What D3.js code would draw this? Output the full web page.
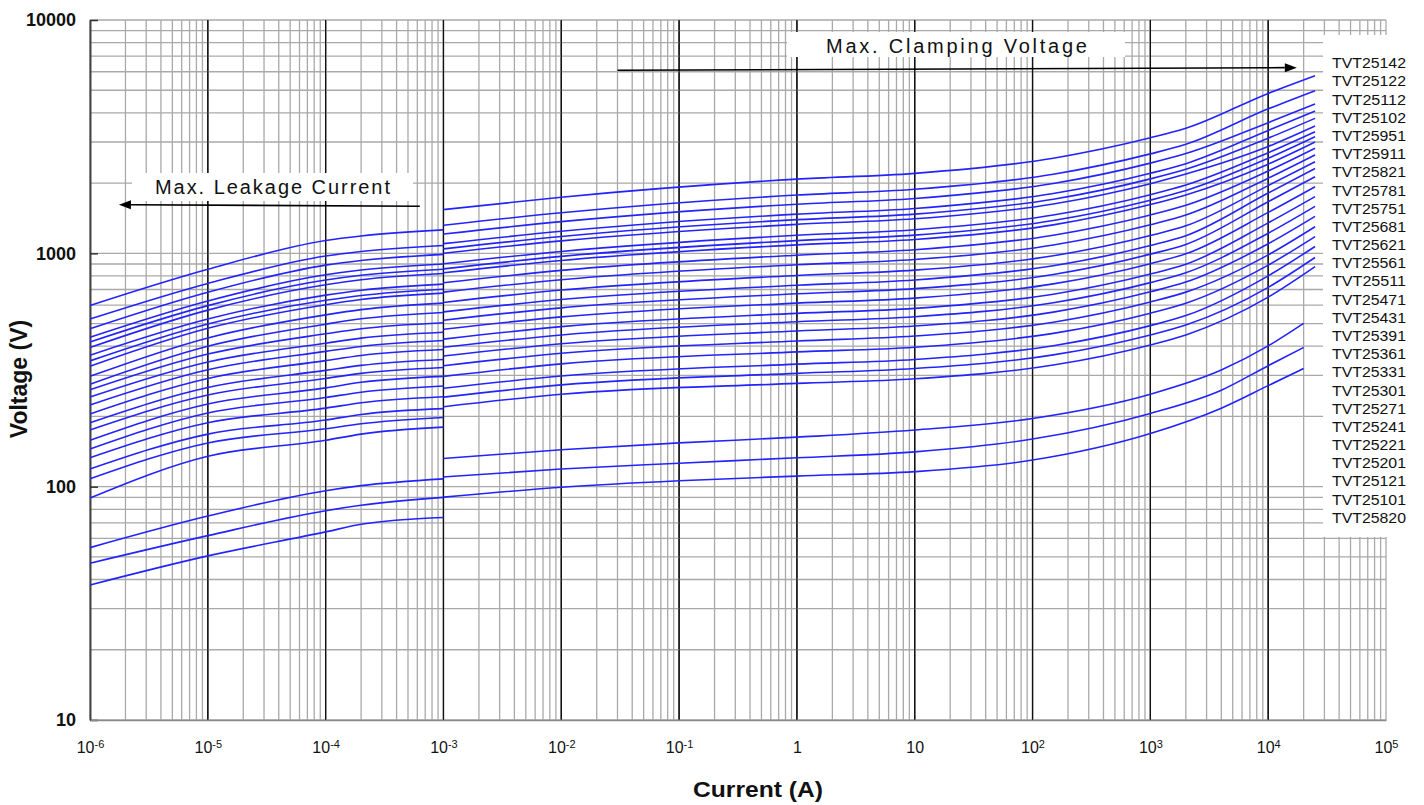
<!DOCTYPE html>
<html><head><meta charset="utf-8">
<script src="https://cdn.jsdelivr.net/npm/d3@7"></script>
<style>
html,body{margin:0;padding:0;background:#fff;}
svg{display:block;font-family:"Liberation Sans",Arial,sans-serif;}
</style></head><body>
<svg id="chart" width="1424" height="805"></svg>
<script>
// ---------------- DATA ----------------
const devices = ["TVT25142","TVT25122","TVT25112","TVT25102","TVT25951","TVT25911","TVT25821","TVT25781","TVT25751","TVT25681","TVT25621","TVT25561","TVT25511","TVT25471","TVT25431","TVT25391","TVT25361","TVT25331","TVT25301","TVT25271","TVT25241","TVT25221","TVT25201","TVT25121","TVT25101","TVT25820"];

// Max. leakage current region (A) -> voltage (V), one row per device (same order as devices)
const leakCurrents = [1e-6, 1e-5, 1e-4, 2e-4, 1e-3];
const leakVolts = [
  [598, 855, 1135, 1187, 1260],
  [523, 743, 974, 1018, 1080],
  [475, 681, 890, 932, 990],
  [437, 625, 809, 848, 900],
  [417, 597, 768, 805, 855],
  [395, 571, 733, 770, 819],
  [366, 523, 662, 695, 738],
  [346, 498, 629, 660, 702],
  [328, 477, 602, 634, 675],
  [297, 434, 545, 574, 612],
  [275, 400, 497, 524, 558],
  [260, 370, 452, 475, 504],
  [242, 342, 412, 433, 459],
  [224, 317, 380, 399, 423],
  [205, 291, 347, 365, 387],
  [188, 266, 315, 331, 351],
  [175, 247, 291, 306, 324],
  [158, 226, 265, 280, 297],
  [145, 207, 241, 254, 270],
  [133, 188, 217, 229, 243],
  [119, 168, 193, 204, 216],
  [108, 154, 177, 186, 198],
  [89.4, 135, 158, 168, 180],
  [54.8, 74.8, 96.1, 101, 108],
  [47, 61.7, 78.9, 83.2, 90],
  [37.9, 50.5, 64, 69, 73.8]
];

// Max. clamping voltage, high-voltage types (first 23 devices)
const clampCurrentsHigh = [1e-3, 1e-2, 1, 10, 150, 1000, 2000, 1e4, 2.5e4];
const clampVoltsHigh = [
  [1540, 1740, 2079, 2202, 2556, 3126, 3434, 4847, 5770],
  [1320, 1492, 1777, 1881, 2182, 2668, 2932, 4161, 4980],
  [1210, 1367, 1624, 1718, 1992, 2436, 2677, 3631, 4370],
  [1100, 1243, 1472, 1557, 1804, 2204, 2423, 3363, 4070],
  [1045, 1181, 1394, 1473, 1706, 2085, 2292, 3115, 3790],
  [1001, 1131, 1331, 1406, 1628, 1989, 2187, 2869, 3510],
  [902, 1019, 1195, 1263, 1460, 1784, 1962, 2699, 3320],
  [858, 970, 1134, 1197, 1383, 1690, 1858, 2554, 3160],
  [825, 932, 1087, 1147, 1324, 1618, 1780, 2411, 3000],
  [748, 845, 982, 1036, 1196, 1460, 1607, 2253, 2820],
  [682, 771, 893, 941, 1086, 1326, 1459, 2099, 2640],
  [616, 696, 804, 847, 976, 1192, 1312, 1951, 2470],
  [561, 634, 730, 769, 885, 1080, 1190, 1813, 2310],
  [517, 584, 671, 706, 812, 992, 1092, 1664, 2130],
  [473, 534, 612, 643, 740, 903, 995, 1498, 1930],
  [429, 485, 553, 581, 668, 815, 898, 1351, 1750],
  [396, 447, 509, 535, 614, 749, 826, 1220, 1590],
  [363, 410, 465, 488, 560, 684, 753, 1099, 1440],
  [330, 373, 421, 442, 507, 619, 682, 985, 1300],
  [297, 336, 378, 396, 454, 554, 611, 890, 1180],
  [264, 298, 335, 351, 402, 490, 541, 801, 1070],
  [242, 273, 306, 321, 367, 447, 493, 715, 960],
  [220, 249, 277, 290, 332, 405, 447, 649, 877]
];

// Max. clamping voltage, low-voltage types (last 3 devices)
const clampCurrentsLow = [1e-3, 1e-2, 0.1, 1, 10, 100, 1000, 4000, 1e4, 2e4];
const clampVoltsLow = [
  [132, 144, 154, 163, 175, 196, 249, 316, 401, 501],
  [110, 119, 126, 133, 141, 160, 206, 259, 330, 395],
  [90.2, 99.4, 106, 111, 116, 130, 169, 217, 271, 321]
];

const xTickValues = [1e-6, 1e-5, 1e-4, 1e-3, 1e-2, 1e-1, 1, 10, 100, 1000, 1e4, 1e5];
const xTickBase = ["10","10","10","10","10","10","1","10","10","10","10","10"];
const xTickExp  = ["-6","-5","-4","-3","-2","-1","","","2","3","4","5"];
const yTickValues = [10, 100, 1000, 10000];
const yTickLabels = ["10", "100", "1000", "10000"];

// annotations in data coordinates [current, voltage]
const clampArrow = [[0.03, 6090], [1.75e4, 6250]];
const leakArrow = [[6.3e-4, 1591], [1.76e-6, 1617]];
const clampBox = [[0.824, 8886], [609, 6940]];
const leakBox = [[2.27e-6, 2210], [5.51e-4, 1676]];
const clampText = {text: "Max. Clamping Voltage", at: [1.765, 7194], len: 261};
const leakText = {text: "Max. Leakage Current", at: [3.56e-6, 1791], len: 235};

// ---------------- CHART ----------------
const svg = d3.select("#chart");
const x = d3.scaleLog().domain([1e-6, 1e5]).range([90, 1386]);
const y = d3.scaleLog().domain([10, 10000]).range([720, 20]);

const isDecade = v => Math.abs(Math.log10(v) - Math.round(Math.log10(v))) < 1e-9;

// grid
const grid = svg.append("g");
x.ticks(100).forEach(t => {
  const major = isDecade(t) && t > 1.5e-6 && t < 5e4;
  grid.append("line")
    .attr("x1", x(t)).attr("x2", x(t)).attr("y1", y(10000)).attr("y2", y(10))
    .attr("stroke", major ? "#111" : "#a9a9a9")
    .attr("stroke-width", major ? 1.3 : 1.3);
});
y.ticks(30).forEach(t => {
  grid.append("line")
    .attr("x1", x(1e-6)).attr("x2", x(1e5)).attr("y1", y(t)).attr("y2", y(t))
    .attr("stroke", "#a9a9a9").attr("stroke-width", 1.3);
});
// redraw decade vertical lines on top of horizontals
x.ticks(100).filter(t => isDecade(t) && t > 1.5e-6 && t < 5e4).forEach(t => {
  grid.append("line")
    .attr("x1", x(t)).attr("x2", x(t)).attr("y1", y(10000)).attr("y2", y(10))
    .attr("stroke", "#111").attr("stroke-width", 1.2);
});

// white boxes for annotation texts and legend
function box(b) {
  svg.append("rect")
    .attr("x", x(b[0][0])).attr("y", y(b[0][1]))
    .attr("width", x(b[1][0]) - x(b[0][0]))
    .attr("height", y(b[1][1]) - y(b[0][1]))
    .attr("fill", "#fff");
}
box(clampBox);
box(leakBox);
svg.append("rect").attr("x", 1323).attr("y", 35).attr("width", 101).attr("height", 502).attr("fill", "#fff");

// axes
const yAxis = d3.axisLeft(y).tickValues(yTickValues).tickSizeInner(-8).tickSizeOuter(0).tickPadding(14)
  .tickFormat((d, i) => yTickLabels[i]);
const gy = svg.append("g").attr("transform", "translate(90,0)").call(yAxis);
gy.select(".domain").attr("stroke", "#444").attr("stroke-width", 2);
gy.selectAll(".tick line").attr("stroke", "#333").attr("stroke-width", 1.5);
gy.selectAll(".tick text").attr("font-size", 18).attr("font-weight", "bold")
  .attr("font-family", '"Liberation Sans",Arial,sans-serif').attr("fill", "#111");

const xAxis = d3.axisBottom(x).tickValues(xTickValues).tickSize(0).tickFormat(() => "");
const gx = svg.append("g").attr("transform", "translate(0,720)").call(xAxis);
gx.select(".domain").attr("stroke", "#8a8a8a").attr("stroke-width", 1.6);
gx.selectAll(".tick text").each(function(d, i) {
  const t = d3.select(this).attr("y", 33).attr("dy", null)
    .attr("font-size", 16).attr("fill", "#111")
    .attr("font-family", '"Liberation Sans",Arial,sans-serif');
  t.text(null);
  t.append("tspan").text(xTickBase[i]);
  if (xTickExp[i]) t.append("tspan").attr("font-size", 11).attr("dy", -5).text(xTickExp[i]);
});

// curves
const line = d3.line().x(d => x(d[0])).y(d => y(d[1])).curve(d3.curveMonotoneX);
const curves = svg.append("g").attr("fill", "none").attr("stroke", "#2323ff").attr("stroke-width", 1.6);
leakVolts.forEach(v => curves.append("path").attr("d", line(leakCurrents.map((c, i) => [c, v[i]]))));
clampVoltsHigh.forEach(v => curves.append("path").attr("d", line(clampCurrentsHigh.map((c, i) => [c, v[i]]))));
clampVoltsLow.forEach(v => curves.append("path").attr("d", line(clampCurrentsLow.map((c, i) => [c, v[i]]))));

// arrows
function arrow(a) {
  const x1 = x(a[0][0]), y1 = y(a[0][1]), x2 = x(a[1][0]), y2 = y(a[1][1]);
  const ang = Math.atan2(y2 - y1, x2 - x1);
  const L = 12, Wd = 4.5;
  const bx = x2 - L * Math.cos(ang), by = y2 - L * Math.sin(ang);
  svg.append("line").attr("x1", x1).attr("y1", y1).attr("x2", bx).attr("y2", by)
    .attr("stroke", "#000").attr("stroke-width", 1.6);
  const p = [[x2, y2],
    [bx + Wd * Math.sin(ang), by - Wd * Math.cos(ang)],
    [bx - Wd * Math.sin(ang), by + Wd * Math.cos(ang)]];
  svg.append("path").attr("d", "M" + p.map(q => q.join(",")).join("L") + "Z").attr("fill", "#000");
}
arrow(clampArrow);
arrow(leakArrow);

function label(o) {
  svg.append("text").attr("x", x(o.at[0])).attr("y", y(o.at[1]))
    .attr("font-size", 20).attr("fill", "#111")
    .attr("textLength", o.len).attr("lengthAdjust", "spacing")
    .text(o.text);
}
label(clampText);
label(leakText);

// legend labels
svg.append("g").selectAll("text").data(devices).join("text")
  .attr("x", 1332).attr("y", (d, i) => 63.3 + i * 18.18 + 5)
  .attr("font-size", 14).attr("fill", "#111")
  .attr("textLength", 74).attr("lengthAdjust", "spacingAndGlyphs")
  .text(d => d);

// axis titles
svg.append("text").attr("transform", "translate(27,379) rotate(-90)")
  .attr("text-anchor", "middle").attr("font-size", 23).attr("font-weight", "bold").attr("fill", "#111")
  .text("Voltage (V)");
svg.append("text").attr("x", 693).attr("y", 797)
  .attr("font-size", 22).attr("font-weight", "bold").attr("fill", "#111")
  .attr("textLength", 130).attr("lengthAdjust", "spacingAndGlyphs")
  .text("Current (A)");
</script>
</body></html>
